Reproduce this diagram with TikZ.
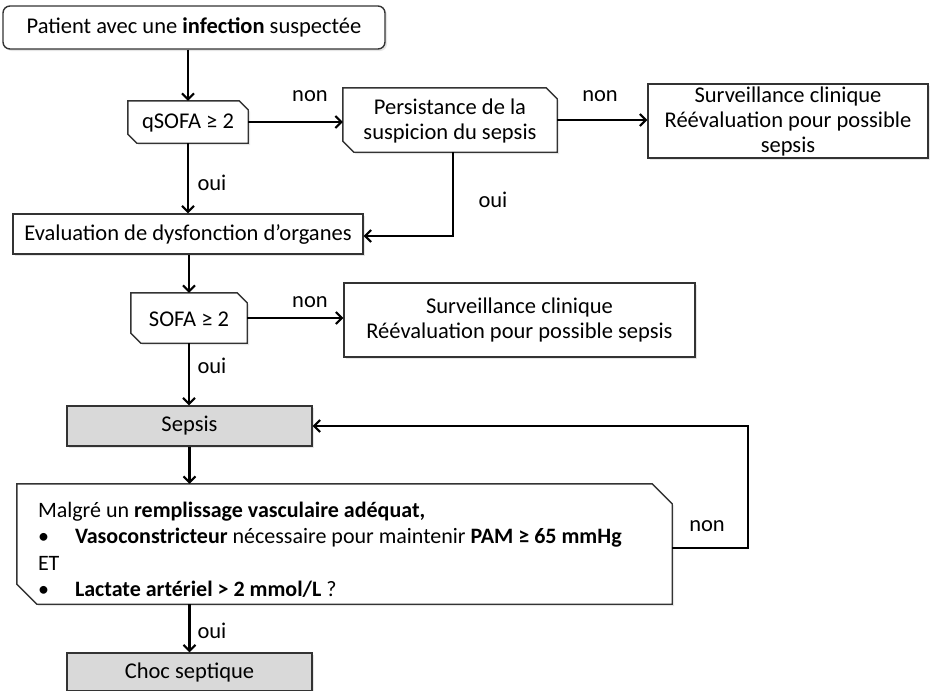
\documentclass[tikz,border=0pt]{standalone}
\usepackage{fontspec}
\setmainfont{Carlito}
\usetikzlibrary{arrows.meta,shadows}
\tikzset{
  box/.style={draw=black!80, line width=1.4pt, fill=white, align=center, inner sep=2pt,
    font=\fontsize{22.5}{25}\selectfont,
    drop shadow={opacity=0.2, shadow xshift=2pt, shadow yshift=-2pt}},
  test/.style={align=center, inner sep=2pt, font=\fontsize{22.5}{25}\selectfont},
  testline/.style={draw=black!80, line width=1.4pt, fill=white,
    drop shadow={opacity=0.2, shadow xshift=2pt, shadow yshift=-2pt}},
  final/.style={box, fill=black!15},
  lbl/.style={font=\fontsize{22.5}{25}\selectfont, inner sep=0pt},
  flow/.style={line width=2.2pt, -{Straight Barb[length=6pt,width=12pt,line width=2pt]}},
}
% outline with cut corners (top right, bottom left)
\newcommand{\cutbox}[2]{%
  \path[testline] (#1.north west) -- ([xshift=-#2]#1.north east) -- ([yshift=-#2]#1.north east)
    -- (#1.south east) -- ([xshift=#2]#1.south west) -- ([yshift=#2]#1.south west) -- cycle;}
\begin{document}
\begin{tikzpicture}[x=1pt,y=-1pt]
  \useasboundingbox (0,0) rectangle (930,691);
  \node[box, rounded corners=7pt, minimum width=382pt, minimum height=43pt] (start) at (194,27.5) {Patient avec une \textbf{infection} suspectée};
  \node[test, minimum width=120pt, minimum height=42pt] (qsofa) at (188,122) {};
  \node[test, minimum width=214pt, minimum height=64pt] (persist) at (450,120) {};
  \node[box, minimum width=280pt, minimum height=74pt] (watch1) at (788,121) {Surveillance clinique\\Réévaluation pour possible\\sepsis};
  \node[box, minimum width=350pt, minimum height=40pt] (organs) at (188,234) {Evaluation de dysfonction d’organes};
  \node[test, minimum width=116pt, minimum height=50pt] (sofa) at (189,318) {};
  \node[box, minimum width=351pt, minimum height=74pt] (watch2) at (519.5,320) {Surveillance clinique\\Réévaluation pour possible sepsis};
  \node[final, minimum width=245pt, minimum height=40pt] (sepsis) at (189.5,426) {Sepsis};
  \node[test, minimum width=655pt, minimum height=120pt] (shock) at (344.5,544) {};
  \node[final, minimum width=245pt, minimum height=38pt] (septic) at (189.5,672) {Choc septique};
  \cutbox{qsofa}{9pt}
  \cutbox{persist}{11pt}
  \cutbox{sofa}{10pt}
  \cutbox{shock}{20pt}
  \node[test] (qsofatxt) at (188,123) {qSOFA ≥ 2};
  \node[test] (persisttxt) at (450,121) {Persistance de la\\suspicion du sepsis};
  \node[test] (sofatxt) at (189,319) {SOFA ≥ 2};
  \node[test, align=flush left, text width=613pt, inner sep=0pt,
    font=\fontsize{22}{26.5}\selectfont] (shocktxt) at (344.5,550)
    {Malgré un \textbf{remplissage vasculaire adéquat,}\\
     \makebox[37pt][l]{•}\textbf{Vasoconstricteur} nécessaire pour maintenir \textbf{PAM ≥ 65 mmHg}\\
     ET\\
     \makebox[37pt][l]{•}\textbf{Lactate artériel > 2 mmol/L} ?};
  \coordinate (loop1) at (748,548);
  \coordinate (loop2) at (748,426);
  \coordinate (back) at (453,236);
  \draw[flow] (qsofa.north |- start.south) -- (qsofa.north);
  \draw[flow] (qsofa.east) -- (persist.west |- qsofa.east);
  \draw[flow] (persist.east) -- (watch1.west |- persist.east);
  \draw[flow] (qsofa.south) -- (organs.north -| qsofa.south);
  \draw[flow] (persist.south -| back) -- (back) -- (organs.east |- back);
  \draw[flow] (organs.south -| sofa.north) -- (sofa.north);
  \draw[flow] (sofa.east) -- (watch2.west |- sofa.east);
  \draw[flow] (sofa.south) -- (sepsis.north -| sofa.south);
  \draw[flow] (sepsis.south) -- (shock.north -| sepsis.south);
  \draw[flow] (shock.east |- loop1) -- (loop1) -- (loop2) -- (sepsis.east);
  \draw[flow] (shock.south -| septic.north) -- (septic.north);
  \node[lbl] (no1) at (310,96) {non};
  \node[lbl] (no2) at (600,96) {non};
  \node[lbl] (yes1) at (212,183) {oui};
  \node[lbl] (yes2) at (493,200) {oui};
  \node[lbl] (no3) at (310,302) {non};
  \node[lbl] (yes3) at (212,366) {oui};
  \node[lbl] (no4) at (707,526) {non};
  \node[lbl] (yes4) at (212,631) {oui};
\end{tikzpicture}
\end{document}
